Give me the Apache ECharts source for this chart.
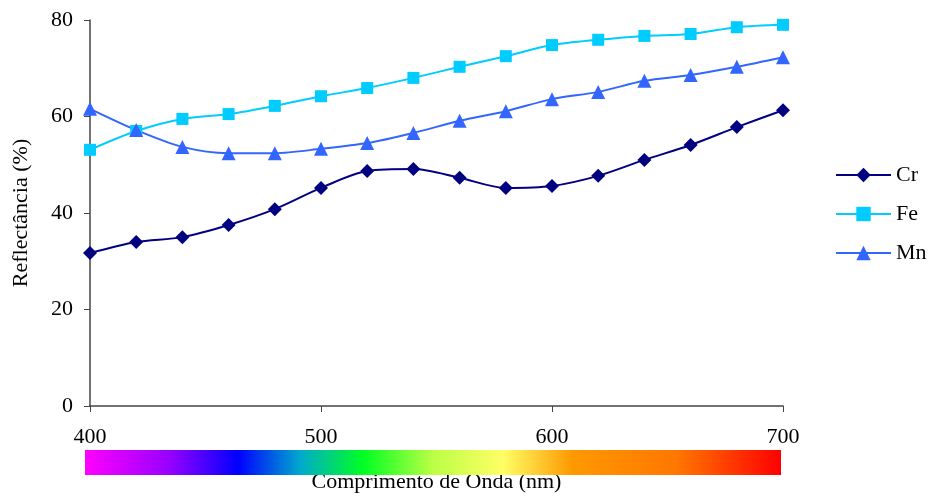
<!DOCTYPE html>
<html lang="pt">
<head>
    <meta charset="UTF-8">
    <title>Reflectância</title>
    <script src="https://cdn.jsdelivr.net/npm/echarts@6/dist/echarts.min.js"></script>
    <style>
        html, body { margin: 0; padding: 0; background: #fff; }
        #chart { width: 930px; height: 496px; }
    </style>
</head>
<body>
<div id="chart"></div>
<script>
    // comprimentos de onda (nm)
    var wavelengths = [400, 420, 440, 460, 480, 500, 520, 540, 560, 580, 600, 620, 640, 660, 680, 700]
    var crValues = [31.7, 34.0, 35.0, 37.5, 40.8, 45.2, 48.7, 49.1, 47.3, 45.2, 45.6, 47.7, 51.0, 54.1, 57.8, 61.3]
    var feValues = [53.1, 57.0, 59.5, 60.5, 62.2, 64.2, 65.9, 68.0, 70.3, 72.5, 74.8, 75.9, 76.7, 77.1, 78.5, 79.0]
    var mnValues = [61.6, 57.2, 53.7, 52.4, 52.4, 53.3, 54.5, 56.6, 59.1, 61.1, 63.6, 65.1, 67.4, 68.6, 70.3, 72.3]
    var xTicks = [400, 500, 600, 700]
    var yTicks = [0, 20, 40, 60, 80]

    var font = 'Liberation Serif'

    function pairs(vals) {
        return wavelengths.map(function (w, i) { return [w, vals[i]] })
    }

    function makeSeries(name, vals, color, symbol, size) {
        return {
            name: name,
            type: 'line',
            smooth: 0.3,
            data: pairs(vals),
            symbol: symbol,
            symbolSize: size,
            lineStyle: { color: color, width: 2 },
            itemStyle: { color: color },
            emphasis: { disabled: true }
        }
    }

    var chart = echarts.init(document.getElementById('chart'))
    chart.setOption({
        animation: false,
        backgroundColor: '#fff',
        textStyle: { fontFamily: font },
        grid: { left: 90, right: 147, top: 20, bottom: 90, containLabel: false, outerBoundsMode: 'none' },
        legend: {
            orient: 'vertical',
            left: 830,
            top: 159,
            itemWidth: 55,
            itemHeight: 18,
            itemGap: 17,
            textStyle: { fontFamily: font, fontSize: 22, color: '#000' },
            data: ['Cr', 'Fe', 'Mn']
        },
        xAxis: {
            type: 'value',
            min: xTicks[0],
            max: xTicks[xTicks.length - 1],
            interval: 100,
            name: 'Comprimento de Onda (nm)',
            nameLocation: 'middle',
            nameGap: 65,
            nameTextStyle: { fontFamily: font, fontSize: 22, color: '#000' },
            axisLine: { lineStyle: { color: '#444', width: 1.5 } },
            axisTick: { show: true, length: 6, lineStyle: { color: '#444' } },
            axisLabel: { margin: 20, fontFamily: font, fontSize: 22, color: '#000' },
            splitLine: { show: false }
        },
        yAxis: {
            type: 'value',
            min: yTicks[0],
            max: yTicks[yTicks.length - 1],
            interval: 20,
            name: 'Reflectância (%)',
            nameLocation: 'middle',
            nameGap: 58,
            nameTextStyle: { fontFamily: font, fontSize: 22, color: '#000' },
            axisLine: { show: true, lineStyle: { color: '#444', width: 1.5 } },
            axisTick: { show: true, length: 6, lineStyle: { color: '#444' } },
            axisLabel: { margin: 17, fontFamily: font, fontSize: 22, color: '#000' },
            splitLine: { show: false }
        },
        graphic: [{
            type: 'rect',
            left: 85,
            top: 450,
            shape: { width: 696, height: 25 },
            z: 100,
            style: {
                fill: new echarts.graphic.LinearGradient(0, 0, 1, 0, [
                    { offset: 0, color: '#ff00ff' },
                    { offset: 0.12, color: '#9900ff' },
                    { offset: 0.22, color: '#0000ff' },
                    { offset: 0.31, color: '#00aacc' },
                    { offset: 0.4, color: '#00ff22' },
                    { offset: 0.5, color: '#bbff44' },
                    { offset: 0.6, color: '#ffff66' },
                    { offset: 0.7, color: '#ff9900' },
                    { offset: 0.85, color: '#ff7700' },
                    { offset: 1, color: '#ff0000' }
                ])
            }
        }],
        series: [
            makeSeries('Cr', crValues, '#000080', 'diamond', 14),
            makeSeries('Fe', feValues, '#00ccff', 'rect', 12),
            makeSeries('Mn', mnValues, '#3366ff', 'triangle', 14)
        ]
    })
</script>
</body>
</html>
